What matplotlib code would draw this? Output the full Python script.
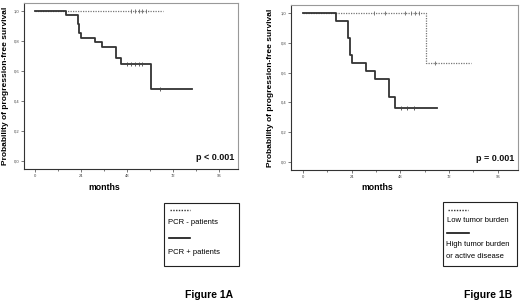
import matplotlib
matplotlib.use("Agg")
import matplotlib.pyplot as plt
from matplotlib.lines import Line2D
from matplotlib.patches import Rectangle

plt.rcParams['font.family'] = ['Liberation Sans', 'DejaVu Sans']

# Panel A data
a_neg_times = [0, 67]
a_neg_surv = [1.0, 1.0]
a_neg_cens_t = [50, 52, 54, 56, 58]
a_neg_cens_s = [1.0, 1.0, 1.0, 1.0, 1.0]

a_pos_times = [0, 16, 22, 23, 24, 31, 35, 42, 45, 60.5, 82]
a_pos_surv = [1.0, 0.973, 0.913, 0.853, 0.82, 0.793, 0.76, 0.687, 0.647, 0.48, 0.48]
a_pos_cens_t = [48, 50, 52, 54, 56, 65]
a_pos_cens_s = [0.647, 0.647, 0.647, 0.647, 0.647, 0.48]

# Panel B data
b_low_times = [0, 60.4, 83]
b_low_surv = [1.0, 0.667, 0.667]
b_low_cens_t = [35, 40.6, 50, 53, 55, 57, 65]
b_low_cens_s = [1.0, 1.0, 1.0, 1.0, 1.0, 1.0, 0.667]

b_high_times = [0, 16, 22, 23, 24, 31, 35.6, 42.5, 45.5, 66]
b_high_surv = [1.0, 0.944, 0.83, 0.72, 0.667, 0.61, 0.555, 0.436, 0.362, 0.362]
b_high_cens_t = [48.5, 51, 54.5]
b_high_cens_s = [0.362, 0.362, 0.362]

xticks = [0, 24, 48, 72, 96]
yticks = [0.0, 0.2, 0.4, 0.6, 0.8, 1.0]
ytick_labels = ['0,0', '0,2', '0,4', '0,6', '0,8', '1,0']

W, H = 520, 304
fig = plt.figure(figsize=(W / 100, H / 100), dpi=100)

def fx(px):
    return px / W

def fy(py):
    return 1 - py / H

def make_axes(left, top, right, bottom):
    return fig.add_axes([fx(left), fy(bottom), fx(right - left), fy(top) - fy(bottom)])

def style_axes(ax, ptext):
    ax.set_xlim(-6, 106)
    ax.set_ylim(-0.053, 1.053)
    ax.set_xticks(xticks)
    ax.set_xticks([12, 36, 60, 84], minor=True)
    ax.set_yticks(yticks)
    ax.set_yticklabels(ytick_labels)
    ax.tick_params(axis='both', labelsize=3, length=2, width=0.5, pad=1.5, colors='#444444')
    ax.tick_params(axis='x', which='minor', length=1.5, width=0.5, colors='#444444')
    for s in ['left', 'bottom']:
        ax.spines[s].set_color('#333333')
        ax.spines[s].set_linewidth(0.8)
    for s in ['top', 'right']:
        ax.spines[s].set_color('#999999')
        ax.spines[s].set_linewidth(0.8)
    ax.text(0.985, 0.045, ptext, transform=ax.transAxes, ha='right', va='bottom',
            fontsize=6.5, fontweight='bold', color='#111111')

def km(ax, t, s, ct, cs, dotted):
    if dotted:
        ax.step(t, s, where='post', color='#777777', lw=0.9, linestyle=(0, (1, 1)))
        ax.plot(ct, cs, linestyle='none', marker='|', ms=2.5, mew=0.6, color='#666666')
    else:
        ax.step(t, s, where='post', color='#333333', lw=1.3)
        ax.plot(ct, cs, linestyle='none', marker='|', ms=2.5, mew=0.6, color='#444444')

axA = make_axes(24, 3, 238, 169)
style_axes(axA, 'p < 0.001')
km(axA, a_neg_times, a_neg_surv, a_neg_cens_t, a_neg_cens_s, True)
km(axA, a_pos_times, a_pos_surv, a_pos_cens_t, a_pos_cens_s, False)

axB = make_axes(291, 5, 518, 170)
style_axes(axB, 'p = 0.001')
km(axB, b_low_times, b_low_surv, b_low_cens_t, b_low_cens_s, True)
km(axB, b_high_times, b_high_surv, b_high_cens_t, b_high_cens_s, False)

# y labels
ylab = 'Probability of progression-free survival'
fig.text(fx(6), fy(86), ylab, rotation=90, ha='center', va='center', fontsize=6.0, fontweight='bold')
fig.text(fx(270), fy(88), ylab, rotation=90, ha='center', va='center', fontsize=6.0, fontweight='bold')

# x labels
fig.text(fx(104), fy(188), 'months', ha='center', va='center', fontsize=6.3, fontweight='bold')
fig.text(fx(377), fy(188), 'months', ha='center', va='center', fontsize=6.3, fontweight='bold')

# Legends
def legend_box(x0, y0, x1, y1):
    fig.add_artist(Rectangle((fx(x0), fy(y1)), fx(x1 - x0), fy(y0) - fy(y1),
                             transform=fig.transFigure, fill=False, ec='#222222', lw=0.8))

def legend_line(x0, x1, y, dotted):
    if dotted:
        fig.add_artist(Line2D([fx(x0), fx(x1)], [fy(y), fy(y)], transform=fig.transFigure,
                              color='#333333', lw=1.0, linestyle=(0, (1, 1))))
    else:
        fig.add_artist(Line2D([fx(x0), fx(x1)], [fy(y), fy(y)], transform=fig.transFigure,
                              color='#111111', lw=1.2))

legend_box(164, 203, 239, 266)
legend_line(170, 190, 210, True)
fig.text(fx(168), fy(222), 'PCR - patients', ha='left', va='center', fontsize=5.5)
legend_line(169, 190, 238, False)
fig.text(fx(168), fy(252), 'PCR + patients', ha='left', va='center', fontsize=5.5)

legend_box(443, 202, 517, 266)
legend_line(448, 468, 210, True)
fig.text(fx(447), fy(220), 'Low tumor burden', ha='left', va='center', fontsize=5.5)
legend_line(447, 469, 233, False)
fig.text(fx(446), fy(245), 'High tumor burden', ha='left', va='center', fontsize=5.5)
fig.text(fx(446), fy(256), 'or active disease', ha='left', va='center', fontsize=5.5)

# Figure labels
fig.text(fx(233), fy(295), 'Figure 1A', ha='right', va='center', fontsize=7.5, fontweight='bold')
fig.text(fx(512), fy(295), 'Figure 1B', ha='right', va='center', fontsize=7.5, fontweight='bold')

fig.savefig('out.png', dpi=100)
